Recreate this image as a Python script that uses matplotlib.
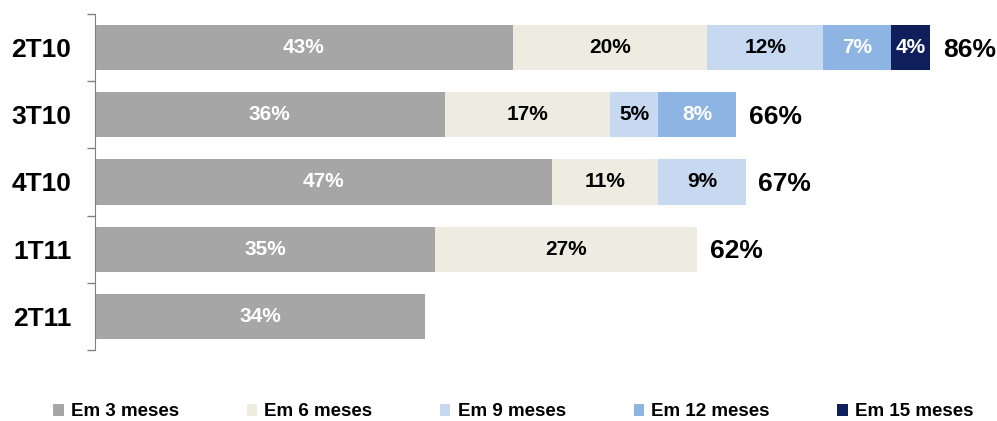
import matplotlib.pyplot as plt
from matplotlib.patches import Patch

plt.rcParams['font.family'] = ['Liberation Sans', 'DejaVu Sans']
plt.rcParams['font.weight'] = 'bold'

categories = ['2T10', '3T10', '4T10', '1T11', '2T11']
series_names = ['Em 3 meses', 'Em 6 meses', 'Em 9 meses', 'Em 12 meses', 'Em 15 meses']
em3 = [43, 36, 47, 35, 34]
em6 = [20, 17, 11, 27, 0]
em9 = [12, 5, 9, 0, 0]
em12 = [7, 8, 0, 0, 0]
em15 = [4, 0, 0, 0, 0]
totals = ['86%', '66%', '67%', '62%', '']

series = [em3, em6, em9, em12, em15]
colors = ['#A6A6A6', '#EEECE1', '#C6D9F1', '#8DB4E2', '#0F1F5B']
text_colors = ['white', 'black', 'black', 'white', 'white']

fig = plt.figure(figsize=(9.97, 4.21), dpi=100)
ax = fig.add_axes([95 / 997, 1 - 350 / 421, 880 / 997, 336 / 421])

y = list(range(len(categories)))
left = [0] * len(categories)
for vals, col, tcol in zip(series, colors, text_colors):
    ax.barh(y, vals, left=left, height=0.67, color=col, edgecolor='none')
    for i, v in enumerate(vals):
        if v > 0:
            ax.text(left[i] + v / 2, i, f'{v}%', ha='center', va='center',
                    color=tcol, fontsize=15, fontweight='bold')
    left = [l + v for l, v in zip(left, vals)]

for i, t in enumerate(totals):
    if t:
        ax.text(left[i] + 1.3, i + 0.03, t, ha='left', va='center', fontsize=19,
                fontweight='bold', color='black')

ax.set_xlim(0, 90.6)
ax.set_ylim(4.5, -0.5)
ax.set_yticks(y)
ax.set_yticklabels(categories, fontsize=19, fontweight='bold')
ax.tick_params(axis='y', length=0, pad=17)
ax.set_yticks([k - 0.5 for k in range(len(categories) + 1)], minor=True)
ax.tick_params(axis='y', which='minor', length=6, color='#808080', width=1)
ax.set_xticks([])
for s in ['top', 'right', 'bottom']:
    ax.spines[s].set_visible(False)
ax.spines['left'].set_color('#808080')

handles = [Patch(facecolor=c, edgecolor='none') for c in colors]
fig.legend(handles, series_names, loc='center', bbox_to_anchor=(0.515, 1 - 412 / 421),
           ncol=5, frameon=False, handlelength=0.55, handleheight=0.6,
           handletextpad=0.4, columnspacing=3.6, prop={'weight': 'bold', 'size': 13.5})

fig.savefig('out.png', dpi=100)
